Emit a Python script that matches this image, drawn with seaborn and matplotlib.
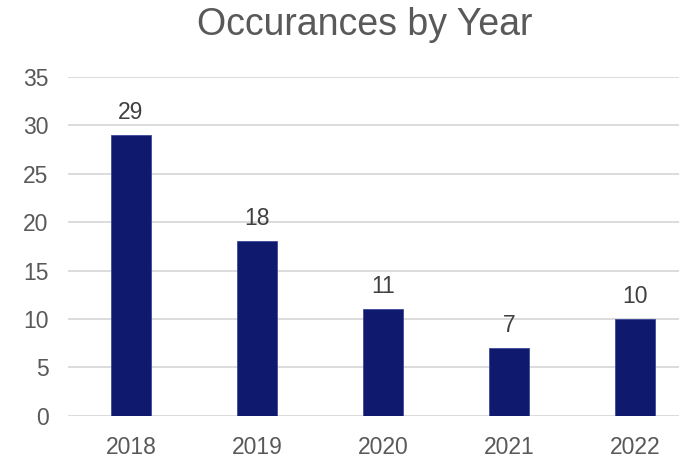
import matplotlib
matplotlib.use("Agg")
import matplotlib.pyplot as plt
import seaborn as sns
import pandas as pd

# data
years = ["2018", "2019", "2020", "2021", "2022"]
counts = [29, 18, 11, 7, 10]

df = pd.DataFrame({"Year": years, "Occurances": counts})

sns.set_style("white")
plt.rcParams["font.family"] = ["Liberation Sans", "DejaVu Sans"]

text_col = "#595959"
grid_col = "#D9D9D9"
bar_col = "#0F1A6F"

fig = plt.figure(figsize=(6.79, 4.58), dpi=100)
ax = fig.add_axes([68 / 679, 42.3 / 458, 630 / 679, 338.8 / 458])

sns.barplot(data=df, x="Year", y="Occurances", color=bar_col, width=0.31,
            edgecolor="#3F4A9A", linewidth=0.6, saturation=1, ax=ax)

ax.set_ylim(0, 35)
ax.set_yticks(range(0, 36, 5))
ax.set_xlim(-0.5, 4.5)
ax.yaxis.grid(True, color=grid_col, linewidth=1.3)
ax.set_axisbelow(True)
for s in ax.spines.values():
    s.set_visible(False)

ax.tick_params(axis="y", length=0, pad=14, labelsize=16.5, labelcolor=text_col)
ax.tick_params(axis="x", length=0, pad=14.5, labelsize=16.5, labelcolor=text_col)
ax.set_xlabel("")
ax.set_ylabel("")

ax.bar_label(ax.containers[0], labels=[str(c) for c in counts],
             padding=8, fontsize=16.5, color="#404040")

fig.text(365 / 679, 1 - 25 / 458, "Occurances by Year", ha="center", va="center",
         fontsize=27, color=text_col)

fig.savefig("out.png", dpi=100)
